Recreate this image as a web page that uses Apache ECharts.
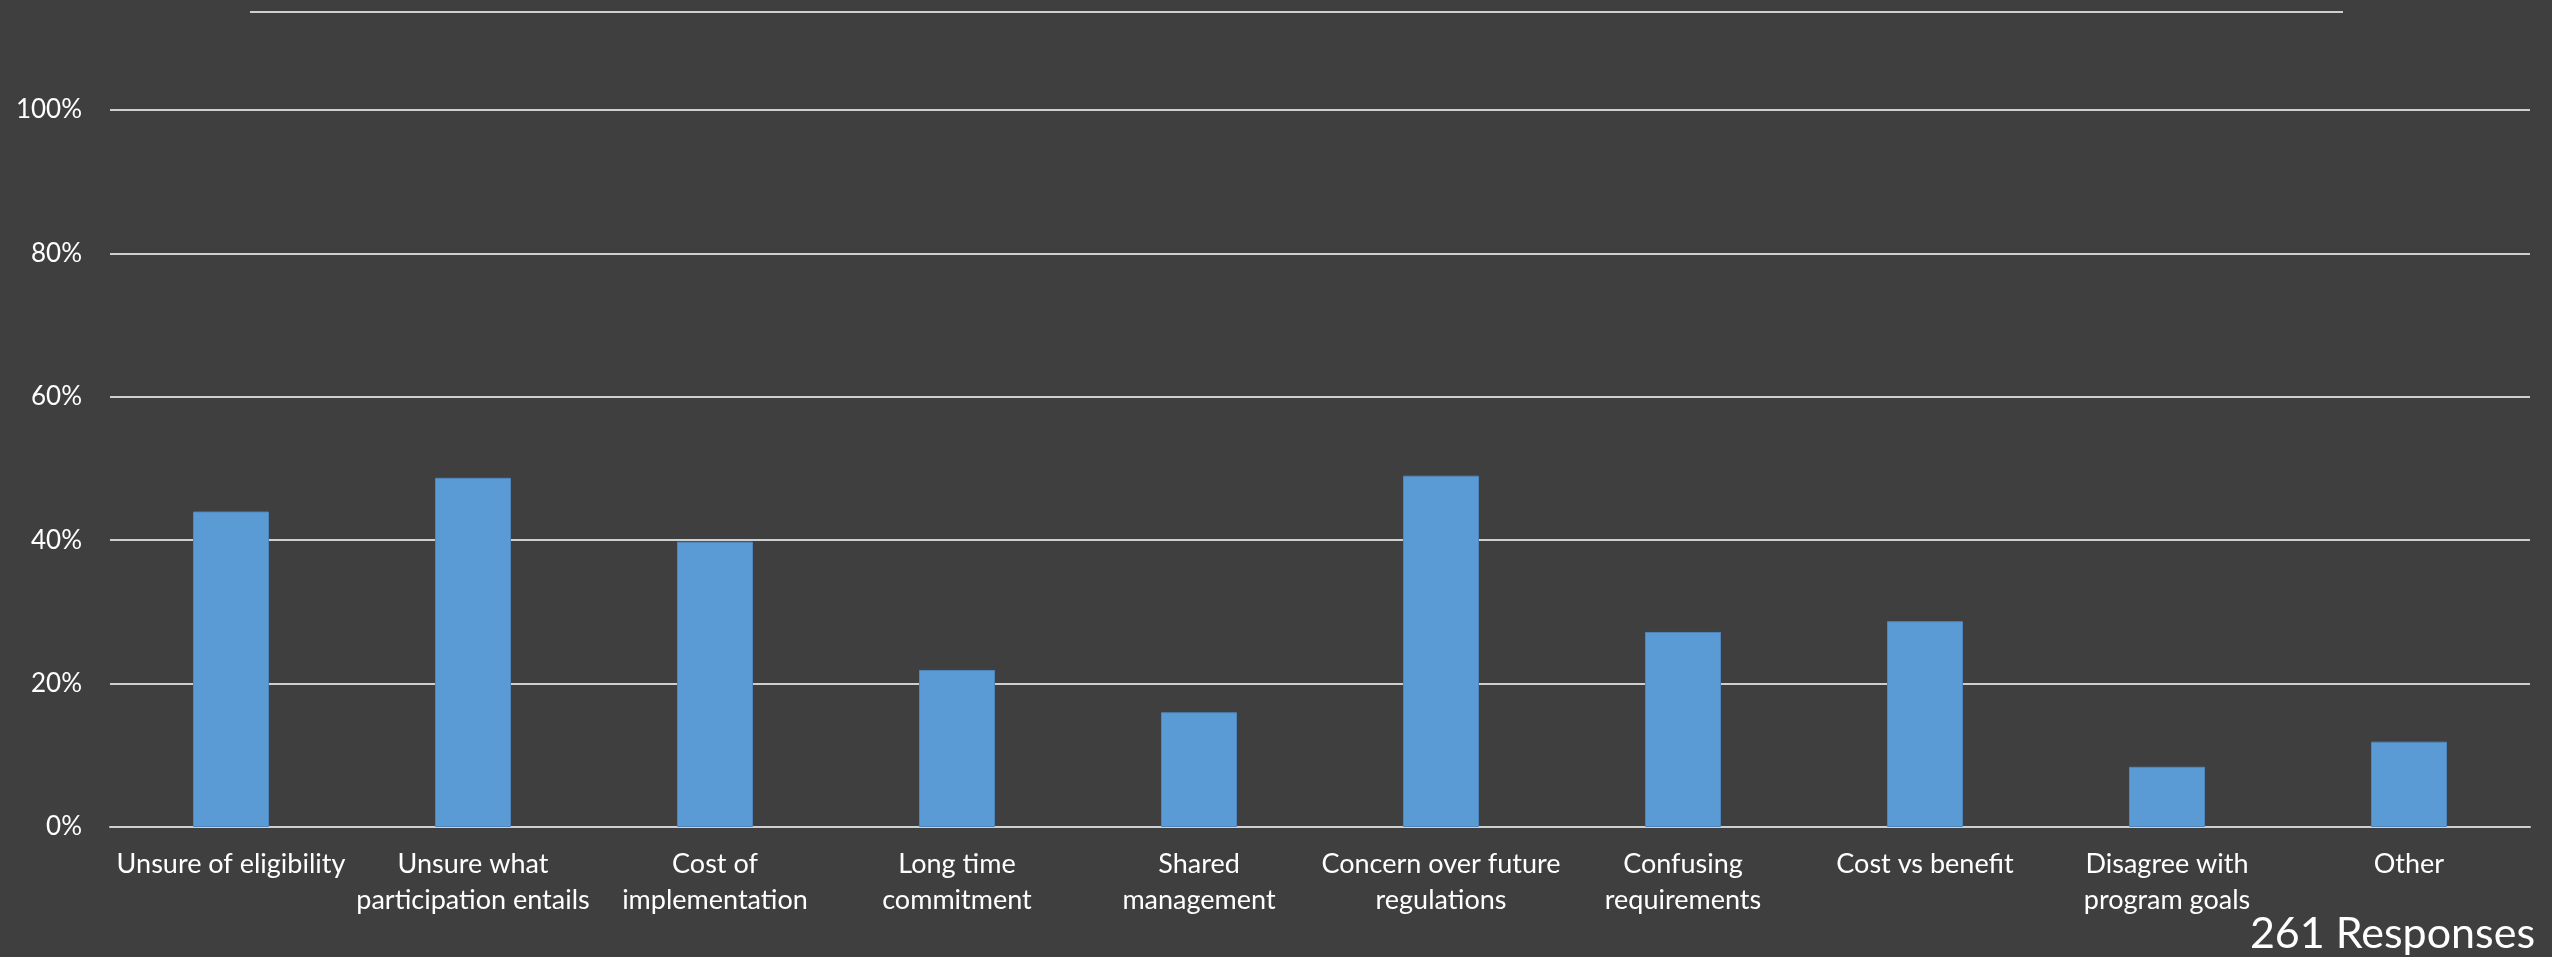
<!DOCTYPE html>
<html>
<head>
<meta charset="utf-8">
<script src="https://cdn.jsdelivr.net/npm/echarts@6/dist/echarts.min.js"></script>
<style>
html,body{margin:0;padding:0;background:#3f3f3f;}
#chart{width:2552px;height:957px;}
</style>
</head>
<body>
<div id="chart"></div>
<script>
const categories = [
  "Unsure of eligibility",
  "Unsure what\nparticipation entails",
  "Cost of\nimplementation",
  "Long time\ncommitment",
  "Shared\nmanagement",
  "Concern over future\nregulations",
  "Confusing\nrequirements",
  "Cost vs benefit",
  "Disagree with\nprogram goals",
  "Other"
];
const percentValues = [44.0, 48.7, 39.8, 21.9, 16.0, 49.0, 27.2, 28.7, 8.4, 11.9];
const yTicks = [0, 20, 40, 60, 80, 100];
const noteText = "261 Responses";

const FONT = "Lato, 'Open Sans', sans-serif";
const chart = echarts.init(document.getElementById('chart'), null, {renderer: 'canvas'});
chart.setOption({
  backgroundColor: '#3f3f3f',
  animation: false,
  grid: {left: 110, right: 22, top: 110, bottom: 130, containLabel: false},
  xAxis: {
    type: 'category',
    data: categories,
    axisTick: {show: false},
    axisLine: {show: true, lineStyle: {color: '#cfcfcf', width: 2}},
    axisLabel: {
      interval: 0, margin: 19, color: '#ffffff',
      fontFamily: FONT, fontSize: 27, lineHeight: 36
    }
  },
  yAxis: {
    type: 'value',
    min: yTicks[0], max: yTicks[yTicks.length - 1], interval: 20,
    axisLine: {show: false},
    axisTick: {show: false},
    axisLabel: {
      formatter: '{value}%', margin: 28, color: '#ffffff',
      fontFamily: FONT, fontSize: 26
    },
    splitLine: {show: true, lineStyle: {color: '#cfcfcf', width: 2}}
  },
  series: [{
    type: 'bar',
    data: percentValues,
    barWidth: '31.4%',
    itemStyle: {color: '#5b9bd5', borderColor: '#4f86bb', borderWidth: 1}
  }],
  graphic: [
    {
      type: 'line',
      shape: {x1: 250, y1: 12, x2: 2343, y2: 12},
      style: {stroke: '#cfcfcf', lineWidth: 2}
    },
    {
      type: 'text',
      right: 17, bottom: 1,
      style: {text: noteText, fill: '#ffffff', font: "43px " + FONT}
    }
  ]
});
</script>
</body>
</html>
